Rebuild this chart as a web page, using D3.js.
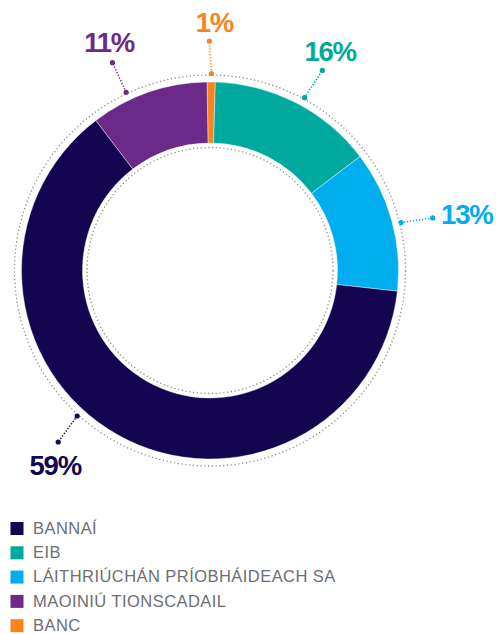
<!DOCTYPE html>
<html><head><meta charset="utf-8">
<script src="https://cdn.jsdelivr.net/npm/d3@7/dist/d3.min.js"></script>
<style>
html,body{margin:0;padding:0;background:#fff;}
svg{display:block;}
</style></head>
<body>
<svg id="chart" width="496" height="634"></svg>
<script>
// ---- data (legend order) ----
const categories = ["BANNAÍ", "EIB", "LÁITHRIÚCHÁN PRÍOBHÁIDEACH SA", "MAOINIÚ TIONSCADAIL", "BANC"];
const shares = [62.9, 14.2, 12.1, 10.1, 0.7];          // arc sizes as drawn
const labelTexts = ["59%", "16%", "13%", "11%", "1%"];  // printed labels
const colors = ["#130550", "#00a99d", "#00aeef", "#6b2a87", "#f6851f"];
const drawOrder = [4, 1, 2, 0, 3]; // clockwise from top

// ---- layout ----
const cx = 210, cy = 270.5, rOuter = 188.5, rInner = 127.5;
const rDotOuter = 195.5, rDotInner = 123, rAnchor = 197;
const labelLayout = [
  {angle: 222.4, end: [-19, 26],   text: [-3, 33.3],  anchor: "middle"},
  {angle: 28.7,  end: [17.7, -27.3], text: [7.8, -9.3], anchor: "middle"},
  {angle: 75.9,  end: [31.6, -4.6],  text: [8.4, 5.6],  anchor: "start"},
  {angle: 334.8, end: [-13.7, -29.6], text: [-3.3, -11], anchor: "middle"},
  {angle: 0.4,   end: [-2, -32.3],  text: [5, -9.7],   anchor: "middle"}
];

const svg = d3.select("#chart");
const g = svg.append("g").attr("transform", `translate(${cx},${cy})`);

const rad = d => d * Math.PI / 180;
const pie = d3.pie().sort(null).value(i => shares[i]).startAngle(rad(-0.9)).endAngle(rad(-0.9) + 2 * Math.PI);
const arcs = pie(drawOrder);
const arc = d3.arc().innerRadius(rInner).outerRadius(rOuter);

g.selectAll("path.slice").data(arcs).join("path")
  .attr("class", "slice")
  .attr("d", arc)
  .attr("fill", d => colors[d.data])
  .attr("stroke", "#fff").attr("stroke-width", 0.4);

// dotted guide circles
[rDotOuter, rDotInner].forEach(r => {
  g.append("circle").attr("r", r).attr("fill", "none")
    .attr("stroke", "#8a8a8a").attr("stroke-width", 1.3)
    .attr("stroke-dasharray", "1.2,2.6");
});

// leader lines + labels
categories.forEach((c, i) => {
  const L = labelLayout[i];
  const a = rad(L.angle);
  const x0 = rAnchor * Math.sin(a), y0 = -rAnchor * Math.cos(a);
  const x1 = x0 + L.end[0], y1 = y0 + L.end[1];
  g.append("line").attr("x1", x0).attr("y1", y0).attr("x2", x1).attr("y2", y1)
    .attr("stroke", colors[i]).attr("stroke-width", 1.5).attr("stroke-dasharray", "1.3,1.7");
  g.append("circle").attr("cx", x0).attr("cy", y0).attr("r", 2.6).attr("fill", colors[i]);
  g.append("circle").attr("cx", x1).attr("cy", y1).attr("r", 2.6).attr("fill", colors[i]);
  g.append("text").attr("x", x1 + L.text[0]).attr("y", y1 + L.text[1])
    .attr("text-anchor", L.anchor)
    .attr("font-family", "Liberation Sans, Arial, sans-serif")
    .attr("font-weight", "bold").attr("font-size", 27.5)
    .attr("letter-spacing", -1.2)
    .attr("fill", colors[i]).text(labelTexts[i]);
});

// legend
const legend = svg.append("g");
categories.forEach((c, i) => {
  const yc = 528.5 + i * 24.3;
  legend.append("rect").attr("x", 10.5).attr("y", yc - 6.5).attr("width", 13).attr("height", 13).attr("fill", colors[i]);
  legend.append("text").attr("x", 33).attr("y", yc + 5.3)
    .attr("font-family", "Liberation Sans, Arial, sans-serif")
    .attr("font-size", 16.5).attr("letter-spacing", 0.45).attr("fill", "#6d6e71")
    .text(c);
});
</script>
</body></html>
